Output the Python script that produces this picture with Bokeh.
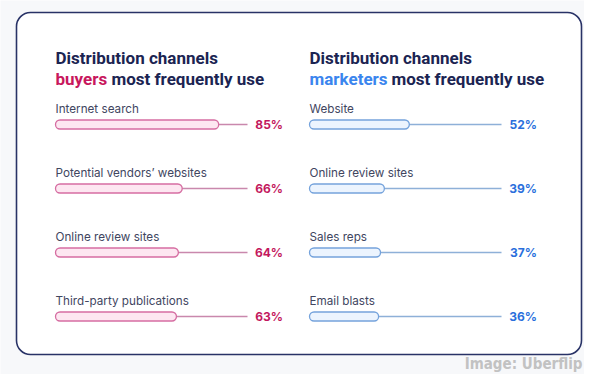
from bokeh.plotting import figure
from bokeh.models import Range1d, ColumnDataSource
from bokeh.core.properties import value
from bokeh.embed import file_html
from bokeh.resources import INLINE

# ---- data ----
buyer_channels = ["Internet search", "Potential vendors\u2019 websites", "Online review sites", "Third-party publications"]
buyer_values = [85, 66, 64, 63]
marketer_channels = ["Website", "Online review sites", "Sales reps", "Email blasts"]
marketer_values = [52, 39, 37, 36]

W, H = 584, 374
OFF = 0  # reference pixel -> figure pixel offset
SPAN = 100 * W / 192.0
XMIN_L = -(55 - OFF) / W * SPAN
XMIN_R = -(309 - OFF) / W * SPAN
ROW_PX = 64.0
Y0_PX = 124.0

def pxl(px):
    return XMIN_L + (px - OFF) / W * SPAN

def py(p):
    return (p - Y0_PX) / ROW_PX

p = figure(width=W, height=H, output_backend="svg", toolbar_location=None,
           x_range=Range1d(XMIN_L, XMIN_L + SPAN),
           y_range=Range1d(py(OFF + H), py(OFF)),
           min_border=0, outline_line_color=None,
           x_axis_location=None, y_axis_location=None,
           background_fill_color="#f7f8fa", border_fill_color="#f7f8fa")
p.extra_x_ranges = {"right": Range1d(XMIN_R, XMIN_R + SPAN)}
p.xgrid.visible = False
p.ygrid.visible = False

# outer rounded box
p.quad(left=[pxl(16)], right=[pxl(581)], top=[py(12)], bottom=[py(354)],
       fill_color="#ffffff", line_color="#283266", line_width=1.6, border_radius=14)

NAVY = "#1b2452"
LABEL = "#41465f"
PINK_TXT = "#c3185e"
BLUE_TXT = "#2a6fdc"
TITLE_FONT = value("Roboto")

rows = list(range(4))
BAR_H = 9 / ROW_PX
LBL_OFF = 16 / ROW_PX

def panel(channels, vals, xr, fill, border, line, pct_color):
    src = ColumnDataSource(dict(
        y=rows, v=vals, zero=[0] * 4, full=[100] * 4,
        ly=[r - LBL_OFF for r in rows], lab=channels,
        pct=[f"{v}%" for v in vals], px=[118.5] * 4))
    kw = {} if xr is None else {"x_range_name": xr}
    p.segment(x0="zero", x1="full", y0="y", y1="y", source=src,
              line_color=line, line_width=1.6, **kw)
    p.hbar(y="y", left="zero", right="v", height=BAR_H, source=src,
           fill_color=fill, line_color=border, line_width=1.3, border_radius=5, **kw)
    p.text(x="zero", y="ly", text="lab", source=src, text_font=value("Inter"),
           text_font_size="11.7px", text_color=LABEL, text_baseline="middle",
           text_align="left", **kw)
    p.text(x="px", y="y", text="pct", source=src, text_font=value("Inter"),
           text_font_size="12px", text_font_style="bold", text_color=pct_color,
           text_baseline="middle", text_align="right", **kw)

panel(buyer_channels, buyer_values, None, "#fde7f1", "#d66ea2", "#c988ad", PINK_TXT)
panel(marketer_channels, marketer_values, "right", "#ecf4fe", "#75a3dc", "#8eb0d8", BLUE_TXT)

# titles
tkw = dict(text_font=TITLE_FONT, text_font_size="17px", text_font_style="bold",
           text_baseline="middle", text_align="left")
p.text(x=[pxl(55)], y=[py(57)], text=["Distribution channels"], text_color=NAVY, **tkw)
p.text(x=[pxl(55)], y=[py(78)], text=["buyers"], text_color="#c8175d", **tkw)
p.text(x=[pxl(111)], y=[py(78)], text=["most frequently use"], text_color=NAVY, **tkw)
p.text(x=[pxl(309)], y=[py(57)], text=["Distribution channels"], text_color=NAVY, **tkw)
p.text(x=[pxl(309)], y=[py(78)], text=["marketers"], text_color="#3a85ee", **tkw)
p.text(x=[pxl(391)], y=[py(78)], text=["most frequently use"], text_color=NAVY, **tkw)

# credit
p.text(x=[pxl(582)], y=[py(372)], text=["Image: Uberflip"], text_color="#c2c2c2",
       text_font=value("DejaVu Sans Condensed"), text_font_size="15px",
       text_font_style="bold", text_baseline="bottom", text_align="right")

open("out.html", "w").write(file_html(p, INLINE))
